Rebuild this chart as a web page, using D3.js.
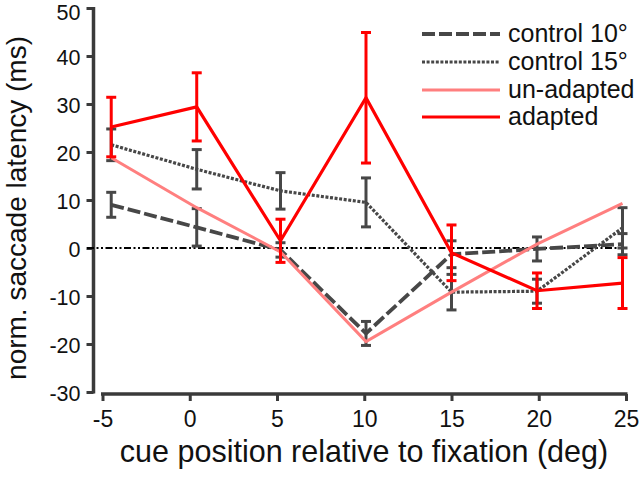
<!DOCTYPE html>
<html><head><meta charset="utf-8">
<script src="https://cdn.jsdelivr.net/npm/d3@7"></script>
<style>
html,body{margin:0;padding:0;background:#fff;}
svg{display:block;font-family:"Liberation Sans",Arial,Helvetica,sans-serif;}
</style></head>
<body><svg id="c" width="640" height="477"></svg>
<script>
// ---- data ----
const cuePos = [-4.5, 0.4, 5.2, 10.1, 15.0, 19.9, 24.8];
const control10 = [9.0, 4.3, -0.4, -17.8, -1.3, -0.2, 0.8];
const control10Err = [2.6, 3.9, 1.5, 2.5, 2.8, 2.5, 2.2];
const control15 = [21.5, 16.4, 11.9, 9.5, -9.2, -9.0, 4.2];
const control15Err = [3.3, 4.1, 3.8, 5.1, 3.7, 2.5, 4.2];
const unadapted = [18.8, 8.4, -0.8, -19.5, -9.2, 0.8, 9.3];
const adapted = [25.2, 29.4, 1.5, 31.3, -1.0, -8.9, -7.3];
const adaptedErr = [6.2, 7.1, 4.5, 13.6, 5.8, 3.7, 5.3];
const xTicks = [-5, 0, 5, 10, 15, 20, 25];
const yTicks = [-30, -20, -10, 0, 10, 20, 30, 40, 50];
const legendLabels = ["control 10°", "control 15°", "un-adapted", "adapted"];

const svg = d3.select("#c");
const x = d3.scaleLinear().domain([-5, 25]).range([102.5, 626]);
const y = d3.scaleLinear().domain([-30, 50]).range([392, 8]);
const axisColor = "#3a3a3a";
const gray = "#474747";
const fmt = d => String(d);

// y axis
const yAxis = d3.axisLeft(y).tickValues(yTicks).tickSize(7).tickPadding(6).tickFormat(fmt);
const gy = svg.append("g").attr("transform", "translate(93.5,0)").call(yAxis);
gy.select(".domain").attr("d", `M0,${y(50)-1}V${y(-30)+1.5}`).attr("stroke", axisColor).attr("stroke-width", 3.5);
gy.selectAll(".tick line").attr("stroke", axisColor).attr("stroke-width", 3);
gy.selectAll(".tick text").attr("font-size", 21.5).attr("fill", "#111")
  .attr("dy", d => d === 50 ? "0.55em" : "0.38em")
  .attr("font-family", "Liberation Sans, Arial, sans-serif");

// x axis
const xAxis = d3.axisBottom(x).tickValues(xTicks).tickSize(7).tickPadding(10).tickFormat(fmt);
const gx = svg.append("g").attr("transform", "translate(0,394)").call(xAxis);
gx.select(".domain").attr("d", `M${x(-5)-1.5},0H${x(25)+1.5}`).attr("stroke", axisColor).attr("stroke-width", 3.5);
gx.selectAll(".tick line").attr("stroke", axisColor).attr("stroke-width", 3);
gx.selectAll(".tick text").attr("font-size", 23).attr("fill", "#111").attr("font-family", "Liberation Sans, Arial, sans-serif");

// zero line
svg.append("line").attr("x1", 87).attr("x2", x(25)).attr("y1", y(0)).attr("y2", y(0))
  .attr("stroke", "#000").attr("stroke-width", 1.8).attr("stroke-dasharray", "7,2.5,2,2.5,2,2.5");

const line = d3.line().x((d, i) => x(cuePos[i])).y(d => y(d));

function errBars(vals, errs, color) {
  const g = svg.append("g").attr("stroke", color).attr("stroke-width", 3).attr("fill", "none");
  vals.forEach((v, i) => {
    const cx = x(cuePos[i]);
    g.append("line").attr("x1", cx).attr("x2", cx).attr("y1", y(v + errs[i])).attr("y2", y(v - errs[i]));
    g.append("line").attr("x1", cx - 5).attr("x2", cx + 5).attr("y1", y(v + errs[i])).attr("y2", y(v + errs[i]));
    g.append("line").attr("x1", cx - 5).attr("x2", cx + 5).attr("y1", y(v - errs[i])).attr("y2", y(v - errs[i]));
  });
}

const styles = [
  {data: control10, color: gray, width: 3.8, dash: "13,4"},
  {data: control15, color: gray, width: 3.2, dash: "3,1.6"},
  {data: unadapted, color: "#ff7f7f", width: 3, dash: null},
  {data: adapted, color: "#ff0000", width: 3.2, dash: null}
];

// controls
errBars(control15, control15Err, gray);
svg.append("path").datum(control15).attr("d", line).attr("fill", "none")
  .attr("stroke", styles[1].color).attr("stroke-width", styles[1].width).attr("stroke-dasharray", styles[1].dash);
errBars(control10, control10Err, gray);
svg.append("path").datum(control10).attr("d", line).attr("fill", "none")
  .attr("stroke", styles[0].color).attr("stroke-width", styles[0].width).attr("stroke-dasharray", styles[0].dash);
// un-adapted
svg.append("path").datum(unadapted).attr("d", line).attr("fill", "none")
  .attr("stroke", styles[2].color).attr("stroke-width", styles[2].width);
// adapted
errBars(adapted, adaptedErr, "#ff0000");
svg.append("path").datum(adapted).attr("d", line).attr("fill", "none")
  .attr("stroke", styles[3].color).attr("stroke-width", styles[3].width);

// legend
const legRows = [34, 62, 90, 117];
legendLabels.forEach((lab, i) => {
  const s = styles[i];
  svg.append("line").attr("x1", 422).attr("x2", 500).attr("y1", legRows[i]).attr("y2", legRows[i])
    .attr("stroke", s.color).attr("stroke-width", s.width).attr("stroke-dasharray", s.dash);
  svg.append("text").attr("x", 508).attr("y", legRows[i] + 8).attr("font-size", 25).attr("fill", "#111").text(lab);
});

// axis titles
svg.append("text").attr("x", 364).attr("y", 462).attr("text-anchor", "middle")
  .attr("font-size", 30.5).attr("fill", "#111").text("cue position relative to fixation (deg)");
svg.append("text").attr("transform", "translate(26,208) rotate(-90)").attr("text-anchor", "middle")
  .attr("font-size", 28).attr("fill", "#111").text("norm. saccade latency (ms)");
</script></body></html>
